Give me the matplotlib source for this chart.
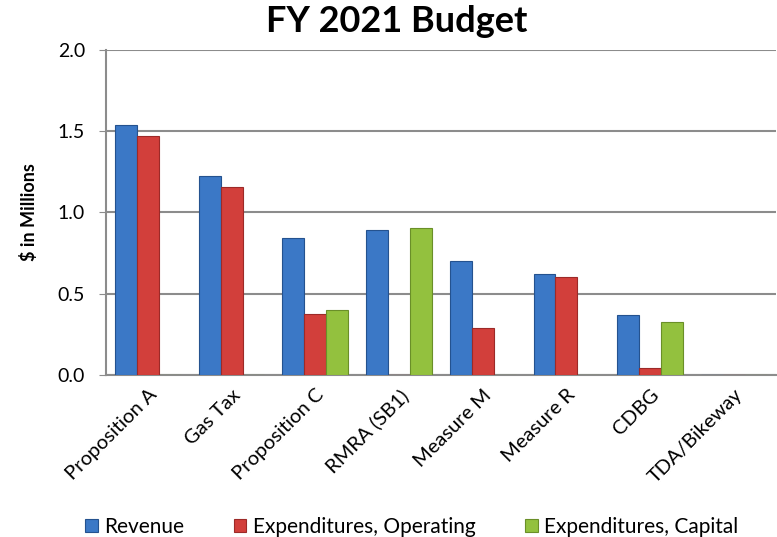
import numpy as np
import matplotlib
matplotlib.use('Agg')
import matplotlib.pyplot as plt

plt.rcParams['font.family'] = ['Lato', 'DejaVu Sans']

# FY 2021 budget by fund ($ millions)
categories = ['Proposition A', 'Gas Tax', 'Proposition C', 'RMRA (SB1)',
              'Measure M', 'Measure R', 'CDBG', 'TDA/Bikeway']
revenue = [1.54, 1.225, 0.84, 0.895, 0.70, 0.62, 0.37, 0.0]
exp_operating = [1.47, 1.155, 0.375, 0.0, 0.29, 0.605, 0.04, 0.0]
exp_capital = [0.0, 0.0, 0.40, 0.905, 0.0, 0.0, 0.325, 0.0]
series_names = ['Revenue', 'Expenditures, Operating', 'Expenditures, Capital']

colors = ['#3b78c6', '#d23f3b', '#93c13e']
edges = ['#24528f', '#9c2a28', '#6a8f28']

fig = plt.figure(figsize=(7.77, 5.37), dpi=100)
ax = fig.add_axes([0.1364, 0.3017, 0.862, 0.6052])

x = np.arange(len(categories))
width = 0.262
for i, (vals, name) in enumerate(zip([revenue, exp_operating, exp_capital], series_names)):
    ax.bar(x + (i - 1) * width, vals, width, color=colors[i], edgecolor=edges[i],
           linewidth=0.8, label=name, zorder=3)

ax.set_xlim(-0.5, len(categories) - 0.5)
ax.set_ylim(0, 2.0)
ax.set_yticks([0, 0.5, 1.0, 1.5, 2.0])
ax.set_yticklabels(['0.0', '0.5', '1.0', '1.5', '2.0'], fontsize=14)
ax.yaxis.grid(True, color='#8c8c8c', linewidth=1.5, zorder=0)
ax.set_axisbelow(True)

ax.set_xticks(x)
ax.set_xticklabels(categories, rotation=45, ha='right', rotation_mode='anchor', fontsize=14.5)
ax.tick_params(axis='x', length=0, pad=8)
ax.tick_params(axis='y', length=5, color='#8c8c8c', pad=10)

for side in ['top', 'right']:
    ax.spines[side].set_visible(False)
for side in ['left', 'bottom']:
    ax.spines[side].set_color('#8c8c8c')
    ax.spines[side].set_linewidth(1.5)

ax.set_ylabel('$ in Millions', fontsize=13, fontweight='bold', labelpad=14)
fig.suptitle('FY 2021 Budget', fontsize=26, fontweight='bold', x=0.51, y=0.99)

fig.legend(loc='lower center', bbox_to_anchor=(0.53, -0.035), ncol=3, frameon=False,
           fontsize=15, handlelength=0.6, handleheight=0.6, handletextpad=0.3,
           columnspacing=2.4)

fig.savefig('out.png', dpi=100)
